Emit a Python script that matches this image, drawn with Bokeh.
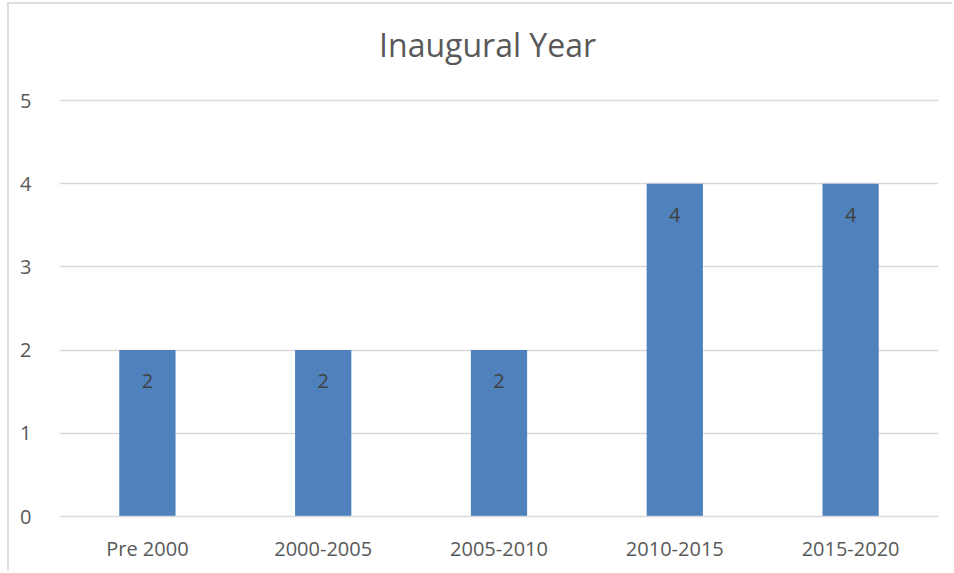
from bokeh.plotting import figure
from bokeh.models import ColumnDataSource, FactorRange, Range1d, Label
from bokeh.core.properties import value
from bokeh.embed import file_html
from bokeh.resources import INLINE

# Chart data
categories = ["Pre 2000", "2000-2005", "2005-2010", "2010-2015", "2015-2020"]
counts = [2, 2, 2, 4, 4]
y_ticks = [0, 1, 2, 3, 4, 5]
chart_title = "Inaugural Year"

FONT = "Open Sans"
GREY_TEXT = "#595959"
GRID = "#d9d9d9"
BAR = "#4f81bd"

source = ColumnDataSource(data=dict(cat=categories, n=counts, label=[str(v) for v in counts]))

# The frame runs up to the top edge so the title can sit inside it;
# only the ticks 0..5 get gridlines and labels.
p = figure(
    x_range=FactorRange(*categories, range_padding=0),
    y_range=Range1d(0, 6.154),
    width=945, height=569,
    output_backend="svg", toolbar_location=None,
    min_border_left=50, min_border_right=16, min_border_top=0, min_border_bottom=57,
)
p.margin = (2, 0, 0, 7)
p.styles = {"border-left": "2px solid #dedede", "border-top": "2px solid #dedede"}

p.vbar(x="cat", top="n", width=0.32, source=source, color=BAR, line_color=None)
p.text(x="cat", y="n", text="label", source=source, text_align="center",
       text_baseline="middle", y_offset=31, text_font=value(FONT),
       text_font_size="20px", text_color="#404040")

# chart title, centred over the whole chart area
p.add_layout(Label(x=2.435, y=5.673, text=chart_title,
                   text_align="center", text_baseline="middle", text_font=FONT,
                   text_font_size="32px", text_color=GREY_TEXT))

p.outline_line_color = None
p.background_fill_color = "white"
p.border_fill_color = "white"

p.xgrid.grid_line_color = None
p.ygrid.ticker = y_ticks
p.ygrid.grid_line_color = GRID
p.ygrid.grid_line_width = 1.5

p.yaxis.ticker = y_ticks
p.yaxis.axis_line_color = None
p.yaxis.major_tick_line_color = None
p.yaxis.minor_tick_line_color = None
p.yaxis.major_label_standoff = 22
p.yaxis.major_label_text_font = FONT
p.yaxis.major_label_text_font_size = "20px"
p.yaxis.major_label_text_color = GREY_TEXT

p.xaxis.axis_line_color = GRID
p.xaxis.axis_line_width = 1.5
p.xaxis.major_tick_line_color = None
p.xaxis.minor_tick_line_color = None
p.xaxis.major_label_standoff = 12
p.xaxis.major_label_text_font = FONT
p.xaxis.major_label_text_font_size = "20px"
p.xaxis.major_label_text_color = GREY_TEXT

open("out.html", "w").write(file_html(p, INLINE))
